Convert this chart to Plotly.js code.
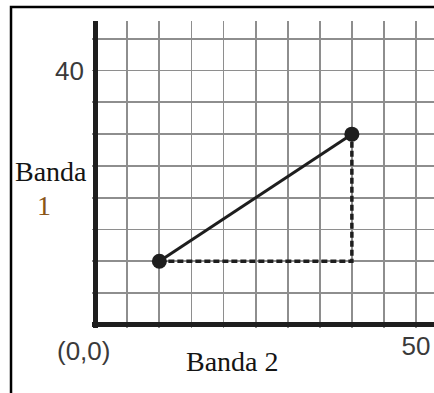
<!DOCTYPE html>
<html>
<head>
<meta charset="utf-8">
<script src="https://cdn.plot.ly/plotly-3.0.1.min.js"></script>
<style>
  html, body { margin: 0; padding: 0; background: #fff; }
  #chart { width: 434px; height: 393px; }
</style>
</head>
<body>
<div id="chart"></div>
<script>
// Two pixels plotted in the Banda 2 / Banda 1 feature space
const banda2 = [10, 40];
const banda1 = [10, 30];

// Grid positions and the few labels that are shown
const xTickVals = [0, 5, 10, 15, 20, 25, 30, 35, 40, 45, 50];
const xTickText = ['', '', '', '', '', '', '', '', '', '', '50'];
const yTickVals = [0, 5, 10, 15, 20, 25, 30, 35, 40, 45];
const yTickText = ['', '', '', '', '', '', '', '', '40', ''];
const originLabel = '(0,0)';
const xTitle = 'Banda 2';
const yTitleTop = 'Banda';
const yTitleBottom = '1';

const ink = '#1e1e1e';
const gridColor = '#8e8e8e';
const sansFont = 'Liberation Sans, Arial, sans-serif';
const serifFont = 'Liberation Serif, Times New Roman, serif';

// Dashed legs of the right triangle: horizontal then vertical
const legs = {
  x: [banda2[0], banda2[1], banda2[1]],
  y: [banda1[0], banda1[0], banda1[1]],
  mode: 'lines',
  line: { color: ink, width: 3.5, dash: '6px,3px' },
  hoverinfo: 'skip',
  showlegend: false
};

// Solid segment joining the two pixels
const segment = {
  x: banda2,
  y: banda1,
  mode: 'lines+markers',
  line: { color: ink, width: 3 },
  marker: { color: ink, size: 15 },
  showlegend: false
};

const layout = {
  width: 434,
  height: 393,
  margin: { l: 92, r: 0, t: 21, b: 65 },
  paper_bgcolor: '#ffffff',
  plot_bgcolor: '#ffffff',
  xaxis: {
    range: [-0.5, 52.8],
    tickmode: 'array',
    tickvals: xTickVals,
    ticktext: xTickText,
    ticks: '',
    showgrid: true,
    gridcolor: gridColor,
    gridwidth: 1.8,
    zeroline: true,
    zerolinecolor: ink,
    zerolinewidth: 5,
    showline: false,
    tickfont: { family: sansFont, size: 26, color: '#3a3a3a' },
    fixedrange: true
  },
  yaxis: {
    range: [-0.5, 47.8],
    tickmode: 'array',
    tickvals: yTickVals,
    ticktext: yTickText,
    ticks: '',
    ticklabelstandoff: 7,
    showgrid: true,
    gridcolor: gridColor,
    gridwidth: 1.8,
    zeroline: true,
    zerolinecolor: ink,
    zerolinewidth: 5,
    showline: false,
    tickfont: { family: sansFont, size: 26, color: '#3a3a3a' },
    fixedrange: true
  },
  annotations: [
    {
      text: originLabel, xref: 'x', yref: 'y', x: 0, y: 0,
      xanchor: 'center', yanchor: 'top', xshift: -12, yshift: -9,
      showarrow: false,
      font: { family: sansFont, size: 26, color: '#3a3a3a' }
    },
    {
      text: xTitle, xref: 'paper', yref: 'paper', x: 0.41, y: 0,
      xanchor: 'center', yanchor: 'top', yshift: -16,
      showarrow: false,
      font: { family: serifFont, size: 28, color: '#141414' }
    },
    {
      text: yTitleTop, xref: 'paper', yref: 'paper', x: 0, y: 0.51,
      xanchor: 'center', yanchor: 'middle', xshift: -41,
      showarrow: false,
      font: { family: serifFont, size: 28, color: '#141414' }
    },
    {
      text: yTitleBottom, xref: 'paper', yref: 'paper', x: 0, y: 0.40,
      xanchor: 'center', yanchor: 'middle', xshift: -48,
      showarrow: false,
      font: { family: serifFont, size: 28, color: '#8a5518' }
    }
  ],
  shapes: [
    {
      // frame along the left and top edges
      type: 'path', xref: 'paper', yref: 'paper',
      path: 'M -0.2368 -0.3 L -0.2368 1.0456 L 1.2 1.0456',
      line: { color: '#000000', width: 2.5 }
    }
  ]
};

Plotly.newPlot('chart', [legs, segment], layout, { staticPlot: true, displayModeBar: false });
</script>
</body>
</html>
